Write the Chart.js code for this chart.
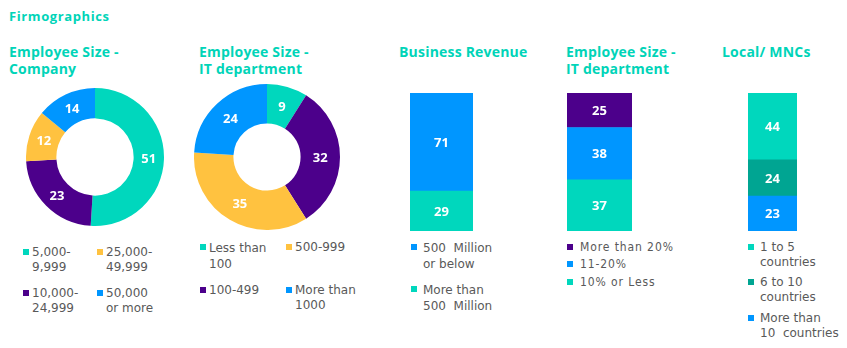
<!DOCTYPE html>
<html>
<head>
<meta charset="utf-8">
<script src="https://cdn.jsdelivr.net/npm/chart.js@4"></script>
<style>
  body { margin: 0; background: #fff; width: 847px; height: 348px; overflow: hidden; position: relative; }
  .title { position: absolute; color: #00d4b8; font-family: "Open Sans", sans-serif; font-weight: 700; white-space: pre; }
  .page-title { font-size: 13px; line-height: 16px; letter-spacing: 0.6px; }
  .sec-title { font-size: 14px; line-height: 17px; letter-spacing: 0.2px; }
  canvas { position: absolute; }
  .leg { position: absolute; font-family: "DejaVu Sans", Verdana, sans-serif; font-size: 12px; line-height: 15px; color: #595959; white-space: pre; }
  .leg.narrow { font-family: "DejaVu Sans Condensed", "DejaVu Sans", sans-serif; letter-spacing: 0.9px; }
  .sq { position: absolute; width: 6px; height: 6px; }
</style>
</head>
<body>
<div class="title page-title" style="left:9px;top:8px">Firmographics</div>
<div class="title sec-title" style="left:9px;top:43px">Employee Size -
Company</div>
<div class="title sec-title" style="left:199px;top:43px">Employee Size -
IT department</div>
<div class="title sec-title" style="left:399px;top:43px">Business Revenue</div>
<div class="title sec-title" style="left:566px;top:43px">Employee Size -
IT department</div>
<div class="title sec-title" style="left:722px;top:43px">Local/ MNCs</div>

<canvas id="c1" width="138" height="138" style="left:26px;top:88px"></canvas>
<canvas id="c2" width="146" height="146" style="left:194px;top:84px"></canvas>
<canvas id="c3" width="63" height="138" style="left:410px;top:93px"></canvas>
<canvas id="c4" width="65" height="138" style="left:567px;top:93px"></canvas>
<canvas id="c5" width="49" height="138" style="left:748px;top:93px"></canvas>

<script>
// colours
var TEAL = '#00d7bd', PURPLE = '#4c008b', YELLOW = '#ffc240', BLUE = '#0096ff', DARKTEAL = '#00a592';

// Employee Size - Company
var companyLabels = ['5,000-\n9,999', '10,000-\n24,999', '25,000-\n49,999', '50,000\nor more'];
var companyValues = [51, 23, 12, 14];
var companyColors = [TEAL, PURPLE, YELLOW, BLUE];

// Employee Size - IT department (donut)
var itDeptLabels = ['Less than\n100', '100-499', '500-999', 'More than\n1000'];
var itDeptValues = [9, 32, 35, 24];
var itDeptColors = [TEAL, PURPLE, YELLOW, BLUE];

// Business Revenue (top to bottom)
var revenueLabels = ['500  Million\nor below', 'More than\n500  Million'];
var revenueValues = [71, 29];
var revenueColors = [BLUE, TEAL];

// Employee Size - IT department (share, top to bottom)
var itShareLabels = ['More than 20%', '11-20%', '10% or Less'];
var itShareValues = [25, 38, 37];
var itShareColors = [PURPLE, BLUE, TEAL];

// Local / MNCs (top to bottom)
var mncLabels = ['1 to 5\ncountries', '6 to 10\ncountries', 'More than\n10  countries'];
var mncValues = [44, 24, 23];
var mncColors = [TEAL, DARKTEAL, BLUE];

// draws the value in the middle of every arc / bar piece
var segLabels = {
    id: 'segLabels',
    afterDatasetsDraw: function (chart) {
        var ctx = chart.ctx;
        ctx.save();
        ctx.font = 'bold 13px "Open Sans"';
        ctx.fillStyle = '#fff';
        ctx.textAlign = 'center';
        ctx.textBaseline = 'middle';
        chart.data.datasets.forEach(function (ds, i) {
            chart.getDatasetMeta(i).data.forEach(function (el, j) {
                var p = el.getCenterPoint();
                ctx.fillText(ds.data[j], p.x, p.y + 1);
            });
        });
        ctx.restore();
    }
};

function donut(id, values, colors, cutout) {
    new Chart(document.getElementById(id).getContext('2d'), {
        type: 'doughnut',
        data: {
            labels: values.map(String),
            datasets: [{ data: values, backgroundColor: colors, borderWidth: 0 }]
        },
        options: {
            responsive: false,
            animation: false,
            cutout: cutout,
            layout: { padding: 0 },
            plugins: { legend: { display: false }, tooltip: { enabled: false } }
        },
        plugins: [segLabels]
    });
}

function stackBar(id, values, colors) {
    var total = values.reduce(function (a, b) { return a + b; }, 0);
    // first dataset sits at the bottom, so go from last to first
    var datasets = values.map(function (v, i) {
        return { data: [v], backgroundColor: colors[i], borderWidth: 0, barPercentage: 1, categoryPercentage: 1 };
    }).reverse();
    new Chart(document.getElementById(id).getContext('2d'), {
        type: 'bar',
        data: { labels: [''], datasets: datasets },
        options: {
            responsive: false,
            animation: false,
            layout: { padding: 0 },
            scales: {
                x: { display: false, stacked: true },
                y: { display: false, stacked: true, min: 0, max: total }
            },
            plugins: { legend: { display: false }, tooltip: { enabled: false } }
        },
        plugins: [segLabels]
    });
}

// html legends: pos = [squareX, textX, top] per item
function legend(labels, colors, pos, narrow) {
    labels.forEach(function (lbl, i) {
        var p = pos[i];
        var sq = document.createElement('div');
        sq.className = 'sq';
        sq.style.background = colors[i];
        sq.style.left = p[0] + 'px';
        sq.style.top = (p[2] + 4) + 'px';
        document.body.appendChild(sq);
        var t = document.createElement('div');
        t.className = 'leg' + (narrow ? ' narrow' : '');
        t.textContent = lbl;
        t.style.left = p[1] + 'px';
        t.style.top = p[2] + 'px';
        if (p[3]) t.style.lineHeight = p[3] + 'px';
        document.body.appendChild(t);
    });
}

donut('c1', companyValues, companyColors, '56%');
donut('c2', itDeptValues, itDeptColors, '46%');
stackBar('c3', revenueValues, revenueColors);
stackBar('c4', itShareValues, itShareColors);
stackBar('c5', mncValues, mncColors);

legend(companyLabels, companyColors, [[23, 32, 245], [23, 32, 286], [97, 106, 245], [97, 106, 286]]);
legend(itDeptLabels, itDeptColors, [[200, 209, 240, 16], [200, 209, 283], [286, 295, 240], [286, 295, 283, 15]]);
legend(revenueLabels, revenueColors, [[411, 423, 240, 16], [411, 423, 282, 16]]);
legend(itShareLabels, itShareColors, [[567, 580, 240], [567, 580, 257], [567, 580, 275]], true);
legend(mncLabels, mncColors, [[748, 760, 240], [748, 760, 275], [748, 760, 311]]);
</script>
</body>
</html>
